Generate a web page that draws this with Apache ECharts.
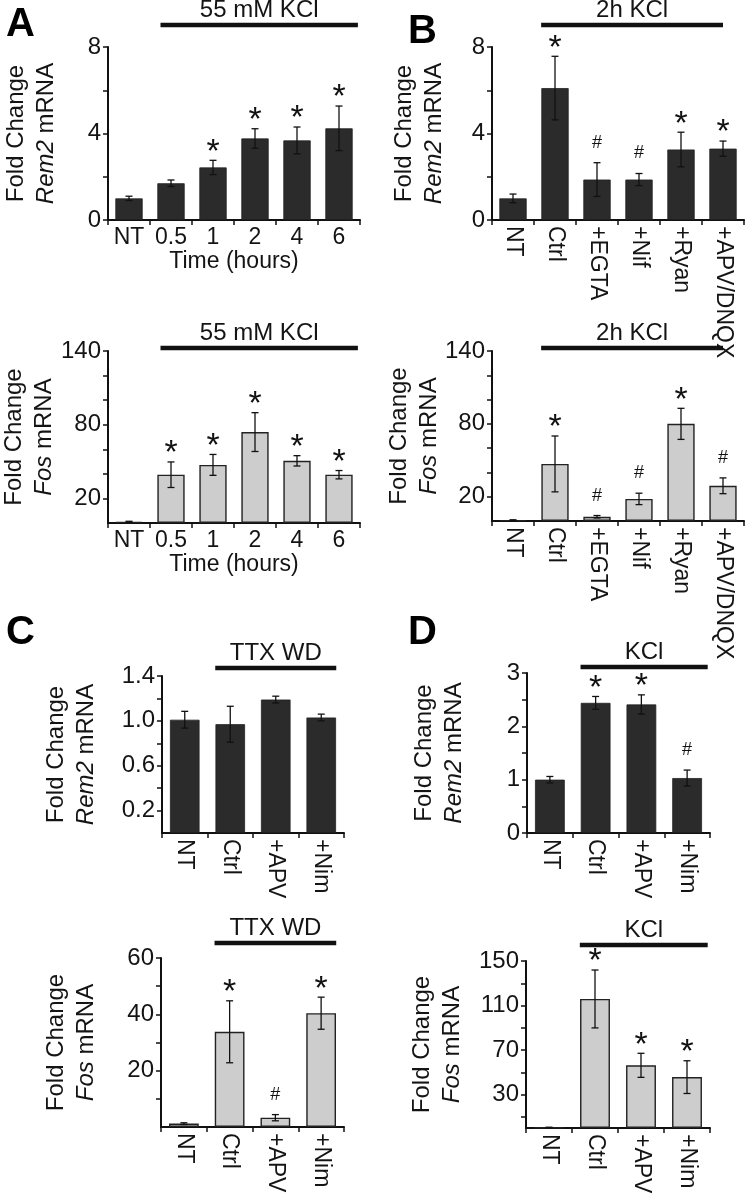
<!DOCTYPE html>
<html>
<head>
<meta charset="utf-8">
<script src="https://cdn.jsdelivr.net/npm/echarts@6/dist/echarts.min.js"></script>
<style>
html,body{margin:0;padding:0;background:#fff;}
#c{width:748px;height:1199px;}
</style>
</head>
<body>
<div id="c"></div>
<script>
// ---------- DATA ----------
const catsA = ['NT', '0.5', '1', '2', '4', '6'];
const catsB = ['NT', 'Ctrl', '+EGTA', '+Nif', '+Ryan', '+APV/DNQX'];
const catsCD = ['NT', 'Ctrl', '+APV', '+Nim'];

// Panel A – time course
const remA = [1.0, 1.7, 2.43, 3.77, 3.68, 4.24];
const remAErr = [0.1, 0.15, 0.33, 0.45, 0.62, 1.03];
const remASig = ['', '', '*', '*', '*', '*'];
const fosA = [1.0, 39.3, 47.3, 74, 50.6, 39.3];
const fosAErr = [0.4, 10.4, 8.5, 15.8, 4.2, 3.4];
const fosASig = ['', '*', '*', '*', '*', '*'];

// Panel B – inhibitors, 2h KCl
const remB = [1.0, 6.1, 1.87, 1.87, 3.26, 3.3];
const remBErr = [0.2, 1.47, 0.78, 0.28, 0.8, 0.35];
const remBSig = ['', '*', '#', '#', '*', '*'];
const fosB = [0.7, 47, 3.5, 18.2, 80, 29];
const fosBErr = [0.3, 23, 1.0, 4.7, 12.8, 6.5];
const fosBSig = ['', '*', '#', '#', '*', '#'];

// Panel C – TTX withdrawal
const remC = [1.01, 0.97, 1.19, 1.03];
const remCErr = [0.075, 0.16, 0.03, 0.03];
const remCSig = ['', '', '', ''];
const fosC = [1.2, 33.8, 3.3, 40.4];
const fosCErr = [0.3, 11, 1.1, 5.7];
const fosCSig = ['', '*', '#', '*'];

// Panel D – KCl
const remD = [1.0, 2.44, 2.41, 1.03];
const remDErr = [0.06, 0.12, 0.18, 0.15];
const remDSig = ['', '*', '*', '#'];
const fosD = [0.5, 115.9, 56.3, 45.7];
const fosDErr = [0.2, 26, 10.8, 14.7];
const fosDSig = ['', '*', '*', '*'];

// Axis ticks and tick labels
const remTicksAB = [0, 2, 4, 6, 8];
const remLabelsAB = [0, 4, 8];
const fosTicksAB = [20, 40, 60, 80, 100, 120, 140];
const fosLabelsAB = [20, 80, 140];
const remTicksC = [0.2, 0.4, 0.6, 0.8, 1.0, 1.2, 1.4];
const remLabelsC = [0.2, 0.6, 1.0, 1.4];
const fosTicksC = [10, 20, 30, 40, 50, 60];
const fosLabelsC = [20, 40, 60];
const remTicksD = [0, 0.5, 1, 1.5, 2, 2.5, 3];
const remLabelsD = [0, 1, 2, 3];
const fosTicksD = [10, 30, 50, 70, 90, 110, 130, 150];
const fosLabelsD = [30, 70, 110, 150];

// Treatment annotations
const treatA = '55 mM KCl';
const treatB = '2h KCl';
const treatC = 'TTX WD';
const treatD = 'KCl';
const panelLetters = ['A', 'B', 'C', 'D'];

// ---------- LAYOUT ----------
const FONT = '"Liberation Sans", Arial, Helvetica, sans-serif';
const DARK = '#2b2b2b';
const LIGHT = '#cdcdcd';
const TXT = '#141414';

const panels = [
  { grid: {left: 108, top: 47, width: 252, height: 173}, cats: catsA, vals: remA, errs: remAErr, sig: remASig,
    gene: 'Rem2', dark: true, max: 8, ticks: remTicksAB, labels: remLabelsAB, dec: 0, nameGap: 47,
    treat: {text: treatA, from: 1, to: 5, dy: -22, x0: -0.25, x1: 0.45}, rotate: 0, xName: 'Time (hours)' },
  { grid: {left: 108, top: 351, width: 252, height: 172}, cats: catsA, vals: fosA, errs: fosAErr, sig: fosASig,
    gene: 'Fos', dark: false, max: 140, ticks: fosTicksAB, labels: fosLabelsAB, dec: 0, nameGap: 49,
    treat: {text: treatA, from: 1, to: 5, dy: -3, x0: -0.25, x1: 0.45}, rotate: 0, xName: 'Time (hours)' },
  { grid: {left: 492, top: 47, width: 252, height: 173}, cats: catsB, vals: remB, errs: remBErr, sig: remBSig,
    gene: 'Rem2', dark: true, max: 8, ticks: remTicksAB, labels: remLabelsAB, dec: 0, nameGap: 43,
    treat: {text: treatB, from: 1, to: 5, dy: -22, x0: -0.33, x1: 0}, rotate: -90 },
  { grid: {left: 492, top: 351, width: 252, height: 170}, cats: catsB, vals: fosB, errs: fosBErr, sig: fosBSig,
    gene: 'Fos', dark: false, max: 140, ticks: fosTicksAB, labels: fosLabelsAB, dec: 0, nameGap: 43,
    treat: {text: treatB, from: 1, to: 5, dy: -3, x0: -0.33, x1: 0}, rotate: -90 },
  { grid: {left: 162, top: 676, width: 182, height: 157}, cats: catsCD, vals: remC, errs: remCErr, sig: remCSig,
    gene: 'Rem2', dark: true, max: 1.4, ticks: remTicksC, labels: remLabelsC, dec: 1, nameGap: 61,
    treat: {text: treatC, from: 1, to: 3, dy: -8, x0: -0.33, x1: 0.33}, rotate: -90 },
  { grid: {left: 161, top: 958, width: 183, height: 169}, cats: catsCD, vals: fosC, errs: fosCErr, sig: fosCSig,
    gene: 'Fos', dark: false, max: 60, ticks: fosTicksC, labels: fosLabelsC, dec: 0, nameGap: 60,
    treat: {text: treatC, from: 1, to: 3, dy: -15, x0: -0.33, x1: 0.33}, rotate: -90 },
  { grid: {left: 527, top: 673, width: 183, height: 160}, cats: catsCD, vals: remD, errs: remDErr, sig: remDSig,
    gene: 'Rem2', dark: true, max: 3, ticks: remTicksD, labels: remLabelsD, dec: 0, nameGap: 58,
    treat: {text: treatD, from: 1, to: 3, dy: -6, x0: -0.33, x1: 0.45}, rotate: -90 },
  { grid: {left: 526, top: 961, width: 184, height: 167}, cats: catsCD, vals: fosD, errs: fosDErr, sig: fosDSig,
    gene: 'Fos', dark: false, max: 150, ticks: fosTicksD, labels: fosLabelsD, dec: 0, nameGap: 59,
    treat: {text: treatD, from: 1, to: 3, dy: -16, x0: -0.33, x1: 0.45}, rotate: -90 }
];

const letterPos = [[6, 5], [408, 12], [6, 613], [408, 613]];

// ---------- BUILD ----------
const grids = [], xAxes = [], yAxes = [], series = [];

panels.forEach((p, i) => {
  grids.push(Object.assign({containLabel: false}, p.grid));

  xAxes.push({
    type: 'category', gridIndex: i,
    data: p.cats.map(c => c === '+APV/DNQX'
      ? {value: c, textStyle: {fontFamily: '"Liberation Sans Narrow", ' + FONT}} : c),
    axisLine: {lineStyle: {color: '#111', width: 2}},
    axisTick: {show: true, length: 5, lineStyle: {color: '#111', width: 1.5}},
    axisLabel: {interval: 0, rotate: p.rotate, fontSize: 23, fontFamily: FONT, color: TXT, margin: 6},
    name: p.xName || '', nameLocation: 'middle', nameGap: 27,
    nameTextStyle: {fontSize: 23, fontFamily: FONT, color: TXT}
  });

  yAxes.push({
    type: 'value', gridIndex: i, min: 0, max: p.max,
    axisLine: {show: true, lineStyle: {color: '#111', width: 2}},
    axisTick: {show: true, length: 5, customValues: p.ticks, lineStyle: {color: '#111', width: 1.5}},
    axisLabel: {customValues: p.labels, fontSize: 24, fontFamily: FONT, color: TXT, margin: 7,
      formatter: v => Number(v).toFixed(p.dec)},
    splitLine: {show: false},
    name: '{a|Fold Change}\n{b|' + p.gene + '}{a| mRNA}',
    nameLocation: 'middle', nameRotate: 90, nameGap: p.nameGap,
    nameTextStyle: {
      rich: {
        a: {fontSize: 24, fontFamily: FONT, color: TXT, lineHeight: 30},
        b: {fontSize: 24, fontFamily: FONT, color: TXT, fontStyle: 'italic', lineHeight: 30}
      }
    }
  });

  series.push({
    type: 'bar', xAxisIndex: i, yAxisIndex: i, data: p.vals, barWidth: '65%',
    itemStyle: {color: p.dark ? DARK : LIGHT, borderColor: '#222', borderWidth: p.dark ? 0.8 : 1.4},
    silent: true
  });

  // error bars
  series.push({
    type: 'custom', xAxisIndex: i, yAxisIndex: i, clip: false, silent: true, z: 5,
    data: p.vals.map((v, k) => [k, v, p.errs[k]]),
    renderItem: (params, api) => {
      const k = api.value(0), v = api.value(1), e = api.value(2);
      const t = api.coord([k, v + e]);
      const b = api.coord([k, Math.max(v - e, 0)]);
      const cap = 3.5;
      const st = {stroke: '#111', lineWidth: 1.3};
      return {type: 'group', children: [
        {type: 'line', shape: {x1: t[0], y1: t[1], x2: b[0], y2: b[1]}, style: st},
        {type: 'line', shape: {x1: t[0] - cap, y1: t[1], x2: t[0] + cap, y2: t[1]}, style: st},
        {type: 'line', shape: {x1: b[0] - cap, y1: b[1], x2: b[0] + cap, y2: b[1]}, style: st}
      ]};
    }
  });

  // significance markers
  series.push({
    type: 'custom', xAxisIndex: i, yAxisIndex: i, clip: false, silent: true, z: 6,
    data: p.vals.map((v, k) => [k, v + p.errs[k]]),
    renderItem: (params, api) => {
      const s = p.sig[params.dataIndex];
      if (!s) return null;
      const pt = api.coord([api.value(0), api.value(1)]);
      const star = s === '*';
      return {
        type: 'text',
        style: {
          text: s, x: pt[0], y: star ? pt[1] - 8 : pt[1] - 20,
          align: 'center', verticalAlign: 'middle',
          font: star ? '34px ' + FONT : '18px ' + FONT, fill: '#111'
        }
      };
    }
  });

  // treatment bar + label
  series.push({
    type: 'custom', xAxisIndex: i, yAxisIndex: i, clip: false, silent: true, z: 6,
    data: [[p.treat.from, 0]],
    renderItem: (params, api) => {
      const band = api.size([1, 0])[0];
      const xa = api.coord([p.treat.from, 0])[0] + p.treat.x0 * band;
      const xb = api.coord([p.treat.to, 0])[0] + p.treat.x1 * band;
      const y = params.coordSys.y + p.treat.dy;
      return {type: 'group', children: [
        {type: 'line', shape: {x1: xa, y1: y, x2: xb, y2: y}, style: {stroke: '#111', lineWidth: 4.5}},
        {type: 'text', style: {text: p.treat.text, x: (xa + xb) / 2, y: y - 3, align: 'center',
          verticalAlign: 'bottom', font: '24px ' + FONT, fill: TXT}}
      ]};
    }
  });
});

const graphics = panelLetters.map((L, i) => ({
  type: 'text', left: letterPos[i][0], top: letterPos[i][1],
  style: {text: L, font: 'bold 40px ' + FONT, fill: '#000'}
}));

const chart = echarts.init(document.getElementById('c'), null, {renderer: 'canvas'});
chart.setOption({
  animation: false,
  backgroundColor: '#fff',
  grid: grids, xAxis: xAxes, yAxis: yAxes, series: series,
  graphic: graphics
});
</script>
</body>
</html>
